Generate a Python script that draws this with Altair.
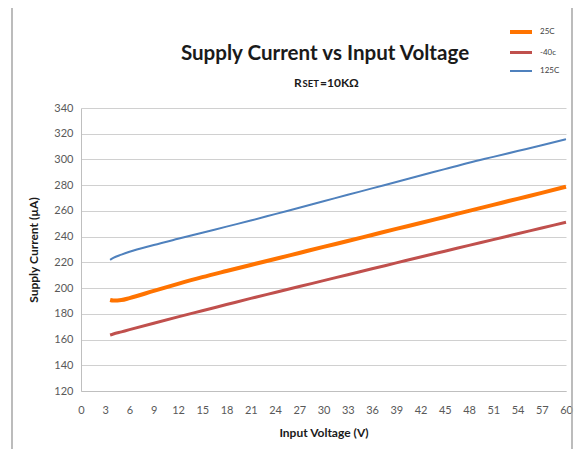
import altair as alt
import pandas as pd

voltage = [3.6, 4, 5, 6, 9, 12, 15, 18, 21, 24, 27, 30, 33, 36, 39, 42, 45, 48, 51, 54, 57, 60]
cur_25c = [190.7, 190.3, 190.7, 192.2, 197.8, 203.3, 208.5, 213.3, 218, 222.6, 227.3, 232, 236.6, 241.3, 246, 250.6, 255.3, 260, 264.7, 269.4, 274, 278.8]
cur_m40c = [163.5, 164.3, 166, 167.7, 172.7, 177.6, 182.4, 187.2, 192, 196.6, 201.2, 205.8, 210.4, 215, 219.6, 224.2, 228.7, 233.2, 237.7, 242.2, 246.7, 251.2]
cur_125c = [222, 223.5, 226, 228.3, 233.5, 238.3, 243, 247.8, 252.5, 257.5, 262.5, 267.5, 272.5, 277.5, 282.5, 287.5, 292.5, 297.5, 302, 306.5, 311, 315.8]

series_names = ["25C", "-40c", "125C"]
series_colors = ["#FF7300", "#C0504D", "#4F81BD"]
series_widths = [4, 2, 2]
x_ticks = list(range(0, 61, 3))
y_ticks = list(range(120, 341, 20))
title_text = "Supply Current vs Input Voltage"
subtitle_parts = ["R", "SET", "=10KΩ"]

rows = []
for name, vals in zip(series_names, [cur_25c, cur_m40c, cur_125c]):
    for v, c in zip(voltage, vals):
        rows.append({"V": v, "I": c, "series": name})
df = pd.DataFrame(rows)

FONT = "Lato"

lines = alt.Chart(df).mark_line(interpolate="monotone").encode(
    x=alt.X("V:Q", scale=alt.Scale(domain=[0, 60], nice=False),
            axis=alt.Axis(values=x_ticks, title="Input Voltage (V)", grid=False, ticks=False,
                          domain=True, domainColor="#bfbfbf", labelPadding=13,
                          titlePadding=12, labelFlush=False, labelOverlap=False)),
    y=alt.Y("I:Q", scale=alt.Scale(domain=[120, 340], nice=False),
            axis=alt.Axis(values=y_ticks, title="Supply Current (µA)", grid=True, ticks=False,
                          domain=True, domainColor="#bfbfbf", gridColor="#d0d0d0",
                          labelPadding=8, titlePadding=13, labelFlush=False, labelOverlap=False)),
    color=alt.Color("series:N", scale=alt.Scale(domain=series_names, range=series_colors),
                    legend=alt.Legend(title=None, orient="none", legendX=427, legendY=-89,
                                      symbolType="stroke", symbolSize=484, symbolStrokeWidth=3,
                                      labelFontSize=8, labelFont=FONT, labelColor="#404040",
                                      rowPadding=-1, labelOffset=6)),
    strokeWidth=alt.StrokeWidth("series:N", scale=alt.Scale(domain=series_names, range=series_widths),
                                legend=None),
    order=alt.Order("V:Q"),
)

one = pd.DataFrame({"a": [0]})

border = alt.Chart(one).mark_rect(
    fill=None, stroke="#a6a6a6", strokeWidth=1.5, clip=False
).encode(
    x=alt.value(-69), x2=alt.value(491), y=alt.value(-105), y2=alt.value(380)
)

title = alt.Chart(one).mark_text(
    text=title_text, font=FONT, fontSize=20.6, fontWeight="bold", color="#1a1a1a",
    align="center", baseline="alphabetic", clip=False
).encode(x=alt.value(244), y=alt.value(-48))

sub_r = alt.Chart(one).mark_text(
    text=subtitle_parts[0], font=FONT, fontSize=12, fontWeight="bold", color="#1a1a1a",
    align="left", baseline="alphabetic", clip=False
).encode(x=alt.value(213), y=alt.value(-21))

sub_set = alt.Chart(one).mark_text(
    text=subtitle_parts[1], font=FONT, fontSize=9.5, fontWeight="bold", color="#1a1a1a",
    align="left", baseline="alphabetic", clip=False
).encode(x=alt.value(221.5), y=alt.value(-21))

sub_rest = alt.Chart(one).mark_text(
    text=subtitle_parts[2], font=FONT, fontSize=12, fontWeight="bold", color="#1a1a1a",
    align="left", baseline="alphabetic", clip=False
).encode(x=alt.value(239), y=alt.value(-21))

chart = alt.layer(border, title, sub_r, sub_set, sub_rest, lines).properties(
    width=485, height=283,
    autosize=alt.AutoSizeParams(type="none"),
    padding={"left": 73, "top": 100, "right": 8, "bottom": 58},
).configure_view(stroke=None).configure_axis(
    labelFont=FONT, labelFontSize=11, labelColor="#595959",
    titleFont=FONT, titleFontSize=12, titleFontWeight="bold", titleColor="#1a1a1a",
)

chart.save("out.html", embed_options={"renderer": "svg", "actions": False})
